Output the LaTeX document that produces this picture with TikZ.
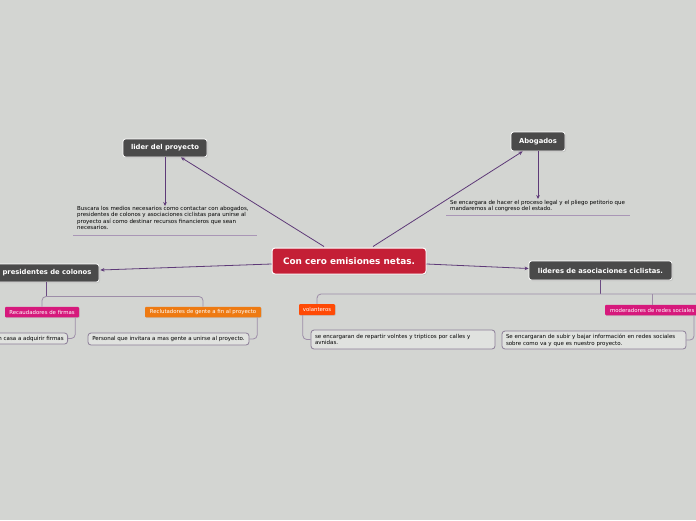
\documentclass[tikz,border=0pt]{standalone}
\usepackage{fontspec}
\setmainfont{DejaVu Sans}
\usetikzlibrary{arrows.meta,shadows,calc}
\definecolor{bg}{HTML}{D3D5D2}
\definecolor{darkbox}{HTML}{4A4A4A}
\definecolor{mainred}{HTML}{C41F36}
\definecolor{linep}{HTML}{5E3A78}
\definecolor{subp}{HTML}{9D8DA8}
\definecolor{ulc}{HTML}{A996B6}
\definecolor{magen}{HTML}{D6197C}
\definecolor{orng}{HTML}{EE7A12}
\definecolor{orred}{HTML}{FF4A05}
\definecolor{boxbd}{HTML}{8C7E98}
\tikzset{
  mainnode/.style={fill=mainred, draw=white, line width=1pt, rounded corners=3pt, text=white,
    font=\fontsize{8.9}{10}\selectfont\bfseries, inner sep=0pt, minimum width=154pt, minimum height=26pt,
    drop shadow={opacity=0.25, shadow xshift=1pt, shadow yshift=-1pt}},
  darknode/.style={fill=darkbox, draw=white, line width=0.8pt, rounded corners=2.5pt, text=white,
    font=\fontsize{6.8}{8}\selectfont\bfseries, inner sep=0pt,
    drop shadow={opacity=0.25, shadow xshift=1pt, shadow yshift=-1pt}},
  tagnode/.style={text=white, font=\fontsize{5.4}{6}\selectfont, inner sep=0pt, rounded corners=1pt,
    minimum height=10.5pt, drop shadow={opacity=0.2, shadow xshift=0.8pt, shadow yshift=-0.8pt}},
  txtbox/.style={draw=boxbd, fill=bg!70!white, line width=0.8pt, rounded corners=3pt,
    font=\fontsize{5.5}{6.8}\selectfont, align=left, inner sep=0pt},
  plaintxt/.style={font=\fontsize{5.5}{6.5}\selectfont, align=left, inner sep=0pt, anchor=north west},
  arr/.style={draw=linep, line width=0.8pt, -{Stealth[length=4pt,width=3.6pt]}},
  subl/.style={draw=subp, line width=0.8pt, rounded corners=4pt},
  subd/.style={draw=linep!80!subp, line width=0.8pt},
  uline/.style={draw=ulc, line width=1pt}
}
\begin{document}
\begin{tikzpicture}[x=1pt,y=-1pt]
\fill[bg] (0,0) rectangle (696,520);
\useasboundingbox (0,0) rectangle (696,520);

% main nodes
\node[mainnode] (c) at (349,261) {Con cero emisiones netas.};
\node[darknode, minimum width=84pt, minimum height=18pt] (lider) at (165,148) {lider del proyecto};
\node[darknode, minimum width=54pt, minimum height=19pt] (abog) at (538,141.5) {Abogados};
\node[darknode, minimum width=104pt, minimum height=18pt] (pres) at (47,273) {presidentes de colonos};
\node[darknode, minimum width=143pt, minimum height=19pt] (lid) at (600.5,270.5) {lideres de asociaciones ciclistas.};

% descriptive texts
\node[plaintxt] (t1) at (77,206) {Buscara los medios necesarios como contactar con abogados,\\presidentes de colonos y asociaciones ciclistas para unirse al\\proyecto así como destinar recursos financieros que sean\\necesarios.};
\coordinate (u1a) at (73,235.5);
\coordinate (u1b) at (257,235.5);
\draw[uline] (u1a) -- (u1b);
\node[plaintxt] (t2) at (450,200) {Se encargara de hacer el proceso legal y el pliego petitorio que\\mandaremos al congreso del estado.};
\coordinate (u2a) at (446,215.5);
\coordinate (u2b) at (630,215.5);
\draw[uline] (u2a) -- (u2b);

\draw[arr] (lider.south) -- (lider.south |- t1.north);
\draw[arr] (abog.south) -- ($(abog.south |- t2.north)+(0,-1)$);

% central connectors
\draw[arr] ($(c.north)+(-25,-1)$) -- ($(lider.south)+(16,0)$);
\draw[arr] ($(c.north)+(24,-1)$) -- ($(abog.south west)+(12,0)$);
\draw[arr] ($(c.west)+(0,3)$) -- ($(pres.east)+(1,-3)$);
\draw[arr] ($(c.east)+(0,3)$) -- ($(lid.west)+(0,-2)$);

% presidentes subtree
\node[tagnode, fill=magen, minimum width=74pt] (rec) at (42,312) {Recaudadores de firmas};
\node[tagnode, fill=orng, minimum width=116pt] (recl) at (203,312) {Reclutadores de gente a fin al proyecto};
\node[txtbox, anchor=east, minimum height=11pt, inner xsep=4pt] (b1) at (68,338.5) {de casa en casa a adquirir firmas};
\node[txtbox, minimum width=161pt, minimum height=12pt] (b2) at (168.5,339) {Personal que invitara a mas gente a unirse al proyecto.};

\coordinate (pj) at (46,296.5);
\draw[subd] (pres.south -| pj) -- (pj);
\draw[subl] (rec.north) -- (rec.north |- pj) -- (recl.north |- pj) -- (recl.north);
\draw[subl] ($(rec.south east)+(-4,0)$) |- (b1.east);
\draw[subl] ($(recl.south east)+(-4,0)$) |- (b2.east);

% lideres subtree
\node[tagnode, fill=orred, minimum width=36pt, minimum height=11pt] (vol) at (317,309.5) {volanteros};
\node[tagnode, fill=magen, minimum width=94pt, anchor=west] (mod) at (605,310) {moderadores de redes sociales};
\node[txtbox, minimum width=184pt, minimum height=19pt, text width=176pt, inner xsep=4pt] (b3) at (403,339.5) {se encargaran de repartir volntes y tripticos por calles y\\avnidas.};
\node[txtbox, minimum width=184pt, minimum height=18pt, text width=176pt, inner xsep=4pt] (b4) at (594,340) {Se encargaran de subir y bajar información en redes sociales\\sobre como va y que es nuestro proyecto.};

\coordinate (lj) at (600.5,294);
\coordinate (rend) at (697,294);
\coordinate (mj) at (652,294);
\draw[subd] (lid.south) -- (lj);
\draw[subl] (vol.north) -- (vol.north |- lj) -- (rend);
\draw[subl] (mj) -- (mj |- mod.north);
\draw[subl] ($(vol.south west)+(4,0)$) |- (b3.west);
\draw[subl] ($(mod.south west)+(89,0)$) |- (b4.east);
\end{tikzpicture}
\end{document}
